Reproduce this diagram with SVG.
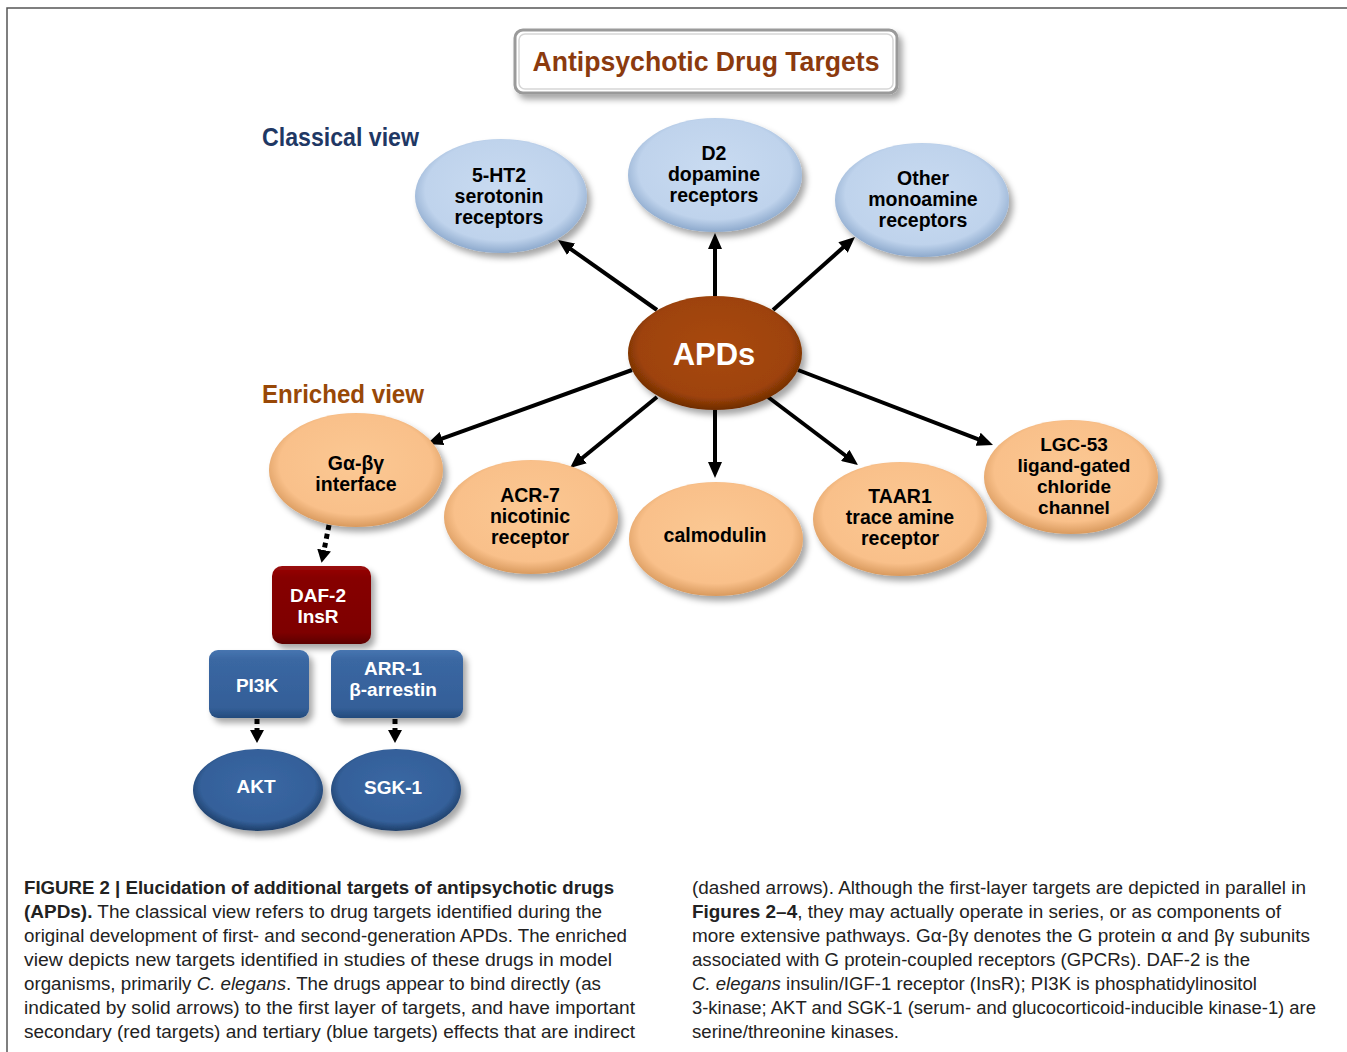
<svg xmlns="http://www.w3.org/2000/svg" width="1347" height="1052" viewBox="0 0 1347 1052">
<style>
.lbl{font-family:"Liberation Sans",Arial,sans-serif;font-weight:bold;font-size:19.5px;fill:#000;text-anchor:middle}
.sm{font-size:19px}
.wl{font-family:"Liberation Sans",Arial,sans-serif;font-weight:bold;font-size:19px;fill:#fff;text-anchor:middle}
.cap{font-family:"Liberation Sans",Arial,sans-serif;font-size:17.5px;fill:#222}
.b{font-weight:bold}
.i{font-style:italic}
.arrow{stroke:#000;stroke-width:4;fill:none;marker-end:url(#ah)}
.dash{stroke:#000;stroke-width:5;fill:none;stroke-dasharray:5 4;marker-end:url(#dh)}
</style>
<defs>
<filter id="sh" x="-20%" y="-20%" width="150%" height="150%">
<feDropShadow dx="4" dy="5" stdDeviation="3" flood-color="#000" flood-opacity="0.35"/>
</filter>
<radialGradient id="gBlue" cx="50%" cy="45%" r="55%">
<stop offset="0" stop-color="#C9DBF1"/><stop offset="0.8" stop-color="#BFD3EC"/><stop offset="1" stop-color="#8EAACD"/>
</radialGradient>
<radialGradient id="gPeach" cx="50%" cy="45%" r="55%">
<stop offset="0" stop-color="#FBC893"/><stop offset="0.8" stop-color="#F9C08A"/><stop offset="1" stop-color="#D99A5E"/>
</radialGradient>
<radialGradient id="gBrown" cx="50%" cy="45%" r="55%">
<stop offset="0" stop-color="#A8480A"/><stop offset="0.8" stop-color="#9E4308"/><stop offset="1" stop-color="#6E2C04"/>
</radialGradient>
<radialGradient id="gDBlue" cx="50%" cy="45%" r="55%">
<stop offset="0" stop-color="#3A68A3"/><stop offset="0.8" stop-color="#34609A"/><stop offset="1" stop-color="#1E3E68"/>
</radialGradient>
<linearGradient id="gBox" x1="0" y1="0" x2="0" y2="1">
<stop offset="0" stop-color="#4775B0"/><stop offset="0.15" stop-color="#3A67A2"/><stop offset="0.85" stop-color="#345F98"/><stop offset="1" stop-color="#234A7C"/>
</linearGradient>
<linearGradient id="gRed" x1="0" y1="0" x2="0" y2="1">
<stop offset="0" stop-color="#9A0A0A"/><stop offset="0.15" stop-color="#860000"/><stop offset="0.85" stop-color="#7E0000"/><stop offset="1" stop-color="#5C0000"/>
</linearGradient>
<marker id="ah" markerUnits="userSpaceOnUse" markerWidth="16" markerHeight="14" refX="6" refY="7" orient="auto">
<path d="M0,0 L16,7 L0,14 z" fill="#000"/>
</marker>
<marker id="dh" markerUnits="userSpaceOnUse" markerWidth="14" markerHeight="14" refX="3" refY="7" orient="auto">
<path d="M0,0 L13,7 L0,14 z" fill="#000"/>
</marker>
</defs>
<rect width="1347" height="1052" fill="#fff"/>
<path d="M7,1052 L7,8 L1347,8" fill="none" stroke="#555" stroke-width="1.5"/>

<g id="title">
<rect x="515" y="30" width="382" height="63" rx="8" fill="#fff" stroke="#9a9a9a" stroke-width="3" filter="url(#sh)"/>
<rect x="519" y="34" width="374" height="55" rx="6" fill="none" stroke="#d6d6d6" stroke-width="1.5"/>
<text x="706" y="71" text-anchor="middle" font-family="'Liberation Sans',Arial,sans-serif" font-weight="bold" font-size="27" fill="#8B3A0E" textLength="347" lengthAdjust="spacingAndGlyphs">Antipsychotic Drug Targets</text>
</g>

<text id="classical" x="262" y="146" font-family="'Liberation Sans',Arial,sans-serif" font-weight="bold" font-size="25" fill="#1F3864" textLength="157" lengthAdjust="spacingAndGlyphs">Classical view</text>
<text id="enriched" x="262" y="403" font-family="'Liberation Sans',Arial,sans-serif" font-weight="bold" font-size="25" fill="#984807" textLength="162" lengthAdjust="spacingAndGlyphs">Enriched view</text>

<g id="connectors">
<line class="arrow" x1="657" y1="310" x2="566.2" y2="245.8"/>
<line class="arrow" x1="715" y1="296" x2="715" y2="243"/>
<line class="arrow" x1="773" y1="310" x2="847.5" y2="243.6"/>
<line class="arrow" x1="632" y1="370" x2="436.4" y2="440.6"/>
<line class="arrow" x1="657" y1="397" x2="577.7" y2="461.7"/>
<line class="arrow" x1="715" y1="410" x2="715" y2="468"/>
<line class="arrow" x1="768" y1="397" x2="850" y2="459"/>
<line class="arrow" x1="798" y1="370" x2="983.7" y2="441.4"/>
<line class="dash" x1="329" y1="525" x2="323.5" y2="553"/>
<line class="dash" x1="257" y1="719" x2="257" y2="733"/>
<line class="dash" x1="395" y1="719" x2="395" y2="733"/>
</g>

<g id="n-5ht2">
<ellipse cx="501" cy="196" rx="86" ry="57" fill="url(#gBlue)" filter="url(#sh)"/>
<text class="lbl"><tspan x="499" y="182">5-HT2</tspan><tspan x="499" y="203">serotonin</tspan><tspan x="499" y="224">receptors</tspan></text>
</g>
<g id="n-d2">
<ellipse cx="715" cy="175" rx="87" ry="57" fill="url(#gBlue)" filter="url(#sh)"/>
<text class="lbl"><tspan x="714" y="160">D2</tspan><tspan x="714" y="181">dopamine</tspan><tspan x="714" y="202">receptors</tspan></text>
</g>
<g id="n-other">
<ellipse cx="922" cy="200" rx="87" ry="57" fill="url(#gBlue)" filter="url(#sh)"/>
<text class="lbl"><tspan x="923" y="185">Other</tspan><tspan x="923" y="206">monoamine</tspan><tspan x="923" y="227">receptors</tspan></text>
</g>
<g id="n-apds">
<ellipse cx="715" cy="353" rx="87" ry="57" fill="url(#gBrown)" filter="url(#sh)"/>
<text x="714" y="365" text-anchor="middle" font-family="'Liberation Sans',Arial,sans-serif" font-weight="bold" font-size="31" fill="#fff">APDs</text>
</g>
<g id="n-galpha">
<ellipse cx="356" cy="470" rx="87" ry="57" fill="url(#gPeach)" filter="url(#sh)"/>
<text class="lbl"><tspan x="356" y="470">Gα-βγ</tspan><tspan x="356" y="491">interface</tspan></text>
</g>
<g id="n-acr7">
<ellipse cx="531" cy="517" rx="87" ry="57" fill="url(#gPeach)" filter="url(#sh)"/>
<text class="lbl"><tspan x="530" y="502">ACR-7</tspan><tspan x="530" y="523">nicotinic</tspan><tspan x="530" y="544">receptor</tspan></text>
</g>
<g id="n-calmodulin">
<ellipse cx="716" cy="539" rx="87" ry="57" fill="url(#gPeach)" filter="url(#sh)"/>
<text class="lbl" x="715" y="542">calmodulin</text>
</g>
<g id="n-taar1">
<ellipse cx="900" cy="519" rx="87" ry="57" fill="url(#gPeach)" filter="url(#sh)"/>
<text class="lbl"><tspan x="900" y="503">TAAR1</tspan><tspan x="900" y="524">trace amine</tspan><tspan x="900" y="545">receptor</tspan></text>
</g>
<g id="n-lgc53">
<ellipse cx="1071" cy="477" rx="87" ry="57" fill="url(#gPeach)" filter="url(#sh)"/>
<text class="lbl sm"><tspan x="1074" y="451">LGC-53</tspan><tspan x="1074" y="472">ligand-gated</tspan><tspan x="1074" y="493">chloride</tspan><tspan x="1074" y="514">channel</tspan></text>
</g>
<g id="n-daf2">
<rect x="272" y="566" width="99" height="78" rx="10" fill="url(#gRed)" filter="url(#sh)"/>
<text class="wl"><tspan x="318" y="602">DAF-2</tspan><tspan x="318" y="623">InsR</tspan></text>
</g>
<g id="n-pi3k">
<rect x="209" y="650" width="100" height="68" rx="9" fill="url(#gBox)" filter="url(#sh)"/>
<text class="wl" x="257" y="692">PI3K</text>
</g>
<g id="n-arr1">
<rect x="331" y="650" width="132" height="68" rx="9" fill="url(#gBox)" filter="url(#sh)"/>
<text class="wl"><tspan x="393" y="675">ARR-1</tspan><tspan x="393" y="696">β-arrestin</tspan></text>
</g>
<g id="n-akt">
<ellipse cx="258" cy="790" rx="65" ry="41" fill="url(#gDBlue)" filter="url(#sh)"/>
<text class="wl" x="256" y="793">AKT</text>
</g>
<g id="n-sgk1">
<ellipse cx="396" cy="790" rx="65" ry="41" fill="url(#gDBlue)" filter="url(#sh)"/>
<text class="wl" x="393" y="794">SGK-1</text>
</g>

<g id="caption">
<text class="cap b" x="24" y="894" textLength="590" lengthAdjust="spacingAndGlyphs">FIGURE 2 | Elucidation of additional targets of antipsychotic drugs</text>
<text class="cap" x="24" y="918" textLength="578" lengthAdjust="spacingAndGlyphs"><tspan class="b">(APDs).</tspan> The classical view refers to drug targets identified during the</text>
<text class="cap" x="24" y="942" textLength="603" lengthAdjust="spacingAndGlyphs">original development of first- and second-generation APDs. The enriched</text>
<text class="cap" x="24" y="966" textLength="588" lengthAdjust="spacingAndGlyphs">view depicts new targets identified in studies of these drugs in model</text>
<text class="cap" x="24" y="990" textLength="577" lengthAdjust="spacingAndGlyphs">organisms, primarily <tspan class="i">C. elegans</tspan>. The drugs appear to bind directly (as</text>
<text class="cap" x="24" y="1014" textLength="611" lengthAdjust="spacingAndGlyphs">indicated by solid arrows) to the first layer of targets, and have important</text>
<text class="cap" x="24" y="1038" textLength="611" lengthAdjust="spacingAndGlyphs">secondary (red targets) and tertiary (blue targets) effects that are indirect</text>
<text class="cap" x="692" y="894" textLength="614" lengthAdjust="spacingAndGlyphs">(dashed arrows). Although the first-layer targets are depicted in parallel in</text>
<text class="cap" x="692" y="918" textLength="589" lengthAdjust="spacingAndGlyphs"><tspan class="b">Figures 2–4</tspan>, they may actually operate in series, or as components of</text>
<text class="cap" x="692" y="942" textLength="618" lengthAdjust="spacingAndGlyphs">more extensive pathways. Gα-βγ denotes the G protein α and βγ subunits</text>
<text class="cap" x="692" y="966" textLength="558" lengthAdjust="spacingAndGlyphs">associated with G protein-coupled receptors (GPCRs). DAF-2 is the</text>
<text class="cap" x="692" y="990" textLength="565" lengthAdjust="spacingAndGlyphs"><tspan class="i">C. elegans</tspan> insulin/IGF-1 receptor (InsR); PI3K is phosphatidylinositol</text>
<text class="cap" x="692" y="1014" textLength="624" lengthAdjust="spacingAndGlyphs">3-kinase; AKT and SGK-1 (serum- and glucocorticoid-inducible kinase-1) are</text>
<text class="cap" x="692" y="1038" textLength="207" lengthAdjust="spacingAndGlyphs">serine/threonine kinases.</text>
</g>
</svg>
